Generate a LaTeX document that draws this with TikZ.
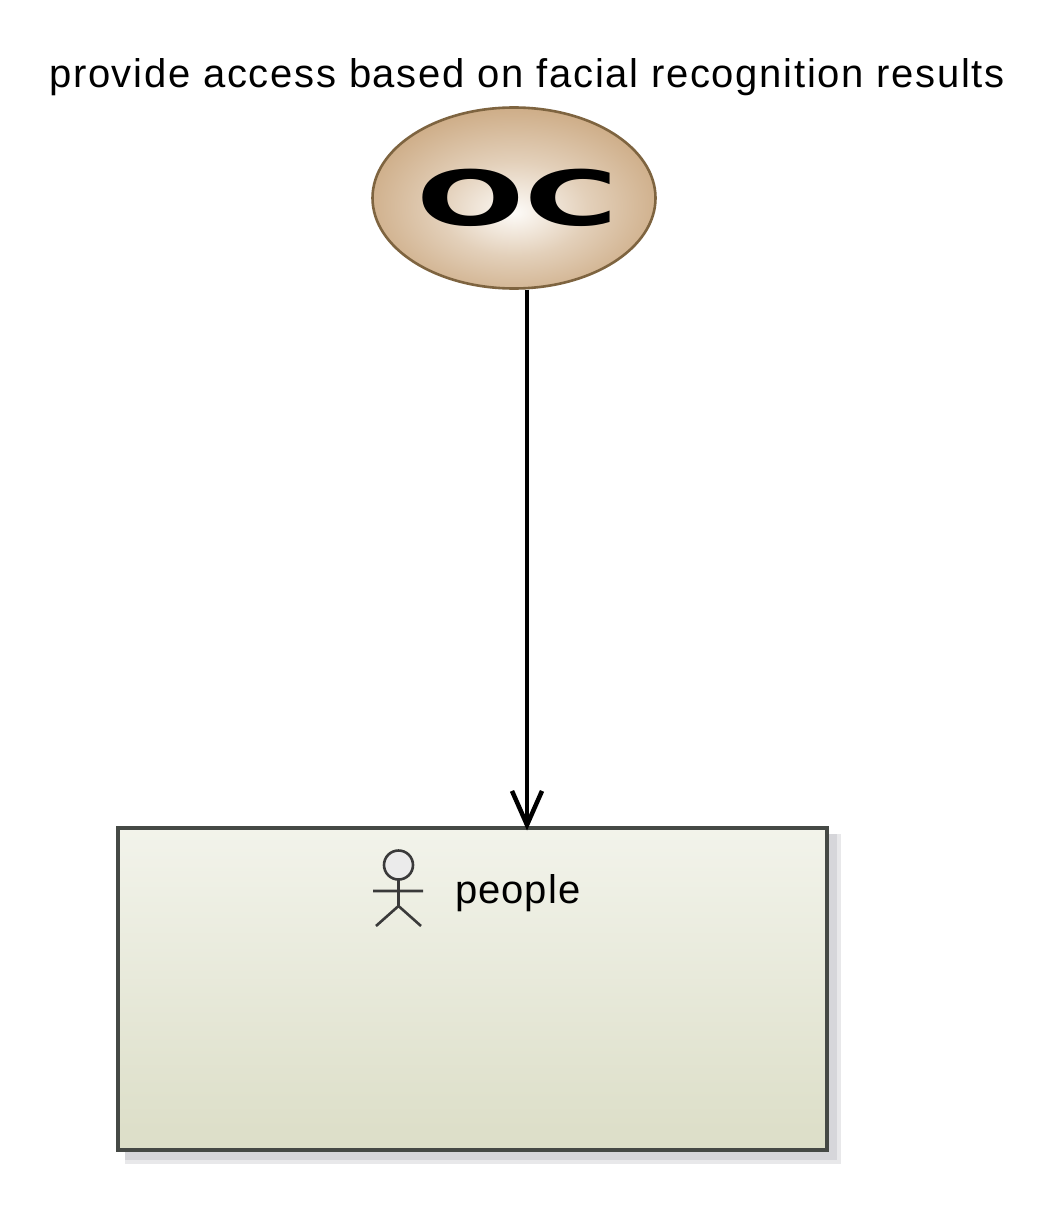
\documentclass[tikz,border=0pt]{standalone}
\usepackage{fontspec}
\usepackage{graphicx}
\setmainfont{Liberation Sans}
\newfontfamily\titlefont[LetterSpace=4.25]{Liberation Sans}
\newfontfamily\labelfont[LetterSpace=2.5]{Liberation Sans}
\newfontfamily\badgefont{DejaVu Sans}
\usetikzlibrary{arrows.meta,shapes.geometric,shadings}
\definecolor{boxedge}{HTML}{454945}
\definecolor{boxtop}{HTML}{F6F7F1}
\definecolor{boxbot}{HTML}{DDDFC9}
\definecolor{ocedge}{HTML}{7E6440}
\definecolor{ocmid}{HTML}{FDFBF8}
\definecolor{ocouter}{HTML}{C9A57C}
\definecolor{shadowa}{HTML}{D6D6DA}
\definecolor{shadowb}{HTML}{E8E8EA}
\definecolor{actorink}{HTML}{3A3A3A}
\pgfdeclareradialshading{ocglow}{\pgfpoint{0bp}{-4bp}}{color(0bp)=(ocmid); color(13bp)=(ocmid!50!ocouter); color(30bp)=(ocouter); color(50bp)=(ocouter)}
\pgfdeclareverticalshading{boxfade}{100bp}{color(0bp)=(boxbot); color(28bp)=(boxbot); color(55bp)=(boxbot!50!boxtop); color(84bp)=(boxtop); color(100bp)=(boxtop)}
\tikzset{
  titletext/.style={inner sep=0pt,anchor=base,font=\titlefont\fontsize{40}{48}\selectfont},
  ocbadge/.style={ellipse,inner sep=0pt,minimum width=283pt,minimum height=181pt,draw=ocedge,line width=2.6pt,shading=ocglow},
  octext/.style={inner sep=0pt,font=\badgefont\bfseries\fontsize{76}{76}\selectfont},
  elementbox/.style={rectangle,inner sep=0pt,minimum width=709pt,minimum height=322pt,draw=boxedge,line width=4pt,shading=boxfade},
  boxlabel/.style={inner sep=0pt,anchor=base west,font=\labelfont\fontsize{40}{48}\selectfont},
  relation/.style={draw=black,line width=4pt,shorten >=-5pt,-{Straight Barb[length=34pt,width=30pt,line width=4.5pt]}},
  actorline/.style={draw=actorink,line width=2.6pt},
}
\begin{document}
\begin{tikzpicture}[x=1pt,y=-1pt]
\useasboundingbox (0,0) rectangle (1057,1212);
% shadow
\fill[shadowb] (125,834) rectangle (841,1164);
\fill[shadowa] (125,834) rectangle (837,1160);
% box
\node[elementbox] (box) at (472,988.5) {};
% title
\node[titletext] (title) at (527,88) {provide access based on facial recognition results};
% badge
\node[ocbadge] (oc) at (514,198) {};
\node[octext] (ocletters) at (517.5,198) {\scalebox{1.68}[1]{OC}};
% connector
\coordinate (axis) at (527,500);
\draw[relation] (axis |- oc.south) -- (axis |- box.north);
% actor
\coordinate (head) at (398.5,865);
\coordinate (neck) at (398.5,880);
\coordinate (hip) at (398.5,906);
\coordinate (armL) at (373,891);
\coordinate (armR) at (423,891);
\coordinate (footL) at (376,926);
\coordinate (footR) at (421,926);
\draw[actorline,fill=black!8] (head) circle[radius=14.5];
\draw[actorline] (neck) -- (hip) (armL) -- (armR) (footL) -- (hip) -- (footR);
% label
\node[boxlabel] (people) at (455,903) {people};
\end{tikzpicture}
\end{document}
